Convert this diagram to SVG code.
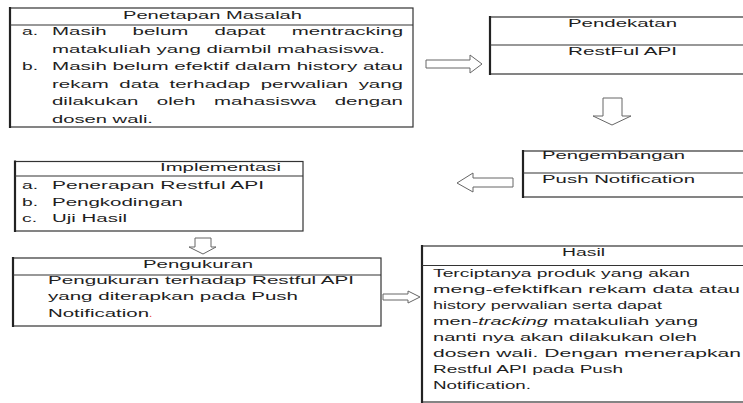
<svg xmlns="http://www.w3.org/2000/svg" width="743" height="403" viewBox="0 0 743 403">
<style>
.box{fill:#fff;stroke:#333;stroke-width:1.2}
.edge{stroke:#222;stroke-width:2.2}
.hl{stroke:#333;stroke-width:1.2}
.t{font-family:"Liberation Sans",Arial,sans-serif;font-size:11.7px;fill:#1e1e1e}
.s{font-size:10.8px}
.arr{fill:#fff;stroke:#666;stroke-width:1}
</style>
<rect width="743" height="403" fill="#fff"/>
<g id="penetapan-masalah">
<rect class="box" x="10" y="8" width="403" height="119"/>
<line class="edge" x1="10" y1="7" x2="10" y2="128"/>
<line class="hl" x1="10" y1="25" x2="413" y2="25"/>
<text class="t" x="123" y="19" textLength="179" lengthAdjust="spacingAndGlyphs">Penetapan Masalah</text>
<text class="t" x="22" y="35" textLength="16" lengthAdjust="spacingAndGlyphs">a.</text>
<text class="t" transform="translate(52 35) scale(1.748 1)" word-spacing="11.67">Masih belum dapat mentracking</text>
<text class="t" x="52" y="52.5" textLength="333" lengthAdjust="spacingAndGlyphs">matakuliah yang diambil mahasiswa.</text>
<text class="t" x="22" y="70" textLength="16" lengthAdjust="spacingAndGlyphs">b.</text>
<text class="t" x="52" y="70" textLength="351" lengthAdjust="spacingAndGlyphs">Masih belum efektif dalam history atau</text>
<text class="t" transform="translate(52 87.5) scale(1.748 1)" word-spacing="2.73">rekam data terhadap perwalian yang</text>
<text class="t" transform="translate(52 105) scale(1.748 1)" word-spacing="7.32">dilakukan oleh mahasiswa dengan</text>
<text class="t" x="52" y="122.5" textLength="101" lengthAdjust="spacingAndGlyphs">dosen wali.</text>
</g>
<g id="pendekatan">
<rect class="box" x="490" y="17" width="260" height="57"/>
<line class="edge" x1="490" y1="16" x2="490" y2="75"/>
<line class="hl" x1="490" y1="45" x2="743" y2="45"/>
<text class="t" x="568" y="27" textLength="109" lengthAdjust="spacingAndGlyphs">Pendekatan</text>
<text class="t" x="568" y="55" textLength="109" lengthAdjust="spacingAndGlyphs">RestFul API</text>
</g>
<g id="pengembangan">
<rect class="box" x="523" y="151" width="230" height="46"/>
<line class="edge" x1="523" y1="150" x2="523" y2="198"/>
<line class="hl" x1="523" y1="173" x2="743" y2="173"/>
<text class="t" x="542" y="159" textLength="143" lengthAdjust="spacingAndGlyphs">Pengembangan</text>
<text class="t" x="542" y="183" textLength="153" lengthAdjust="spacingAndGlyphs">Push Notification</text>
</g>
<g id="implementasi">
<rect class="box" x="15" y="161.5" width="288" height="69.5"/>
<line class="edge" x1="15" y1="160.5" x2="15" y2="232"/>
<line class="hl" x1="15" y1="176" x2="303" y2="176"/>
<text class="t" x="160" y="171" textLength="121" lengthAdjust="spacingAndGlyphs">Implementasi</text>
<text class="t" x="22" y="188.5" textLength="16" lengthAdjust="spacingAndGlyphs">a.</text>
<text class="t" x="52" y="188.5" textLength="212" lengthAdjust="spacingAndGlyphs">Penerapan Restful API</text>
<text class="t" x="22" y="205.5" textLength="16" lengthAdjust="spacingAndGlyphs">b.</text>
<text class="t" x="52" y="205.5" textLength="131" lengthAdjust="spacingAndGlyphs">Pengkodingan</text>
<text class="t" x="22" y="222" textLength="15" lengthAdjust="spacingAndGlyphs">c.</text>
<text class="t" x="52" y="222" textLength="75" lengthAdjust="spacingAndGlyphs">Uji Hasil</text>
</g>
<g id="pengukuran">
<rect class="box" x="13" y="258" width="368" height="68"/>
<line class="edge" x1="13" y1="257" x2="13" y2="327"/>
<line class="hl" x1="13" y1="275" x2="381" y2="275"/>
<text class="t" x="143" y="267.5" textLength="110" lengthAdjust="spacingAndGlyphs">Pengukuran</text>
<text class="t" x="48" y="283.5" textLength="306" lengthAdjust="spacingAndGlyphs">Pengukuran terhadap Restful API</text>
<text class="t" x="48" y="300" textLength="250" lengthAdjust="spacingAndGlyphs">yang diterapkan pada Push</text>
<text class="t" x="48" y="316.5" textLength="101" lengthAdjust="spacingAndGlyphs">Notification</text>
<text class="t" x="149" y="316.5" fill="#e8453c" style="fill:#e8453c">.</text>
</g>
<g id="hasil">
<rect class="box" x="422" y="246" width="330" height="156"/>
<line class="edge" x1="422" y1="245" x2="422" y2="403"/>
<line class="hl" x1="422" y1="265.5" x2="743" y2="265.5"/>
<text class="t" x="562" y="256" textLength="43" lengthAdjust="spacingAndGlyphs">Hasil</text>
<text class="t s" x="433" y="276.5" textLength="257" lengthAdjust="spacingAndGlyphs">Terciptanya produk yang akan</text>
<text class="t s" x="433" y="292.5" textLength="307" lengthAdjust="spacingAndGlyphs">meng-efektifkan rekam data atau</text>
<text class="t s" x="433" y="308.5" textLength="229" lengthAdjust="spacingAndGlyphs">history perwalian serta dapat</text>
<text class="t s" x="433" y="324.5" textLength="265" lengthAdjust="spacingAndGlyphs">men-<tspan font-style="italic">tracking</tspan> matakuliah yang</text>
<text class="t s" x="433" y="340.5" textLength="264" lengthAdjust="spacingAndGlyphs">nanti nya akan dilakukan oleh</text>
<text class="t s" x="433" y="356.5" textLength="308" lengthAdjust="spacingAndGlyphs">dosen wali. Dengan menerapkan</text>
<text class="t s" x="433" y="372.5" textLength="190" lengthAdjust="spacingAndGlyphs">Restful API pada Push</text>
<text class="t s" x="433" y="388.5" textLength="98" lengthAdjust="spacingAndGlyphs">Notification.</text>
</g>
<g id="connectors">
<polygon class="arr" points="426,60 470,60 470,55 482,64 470,73 470,68 426,68"/>
<polygon class="arr" points="603,98 622,98 622,116 631,116 612,125 593,116 603,116"/>
<polygon class="arr" points="513,178 473,178 473,173 457,183 473,192 473,187 513,187"/>
<polygon class="arr" points="195,238 211,238 211,247 216,247 203,254 189,247 195,247"/>
<polygon class="arr" points="383,294 408,294 408,291 420,297 408,303 408,300 383,300"/>
</g>
</svg>
